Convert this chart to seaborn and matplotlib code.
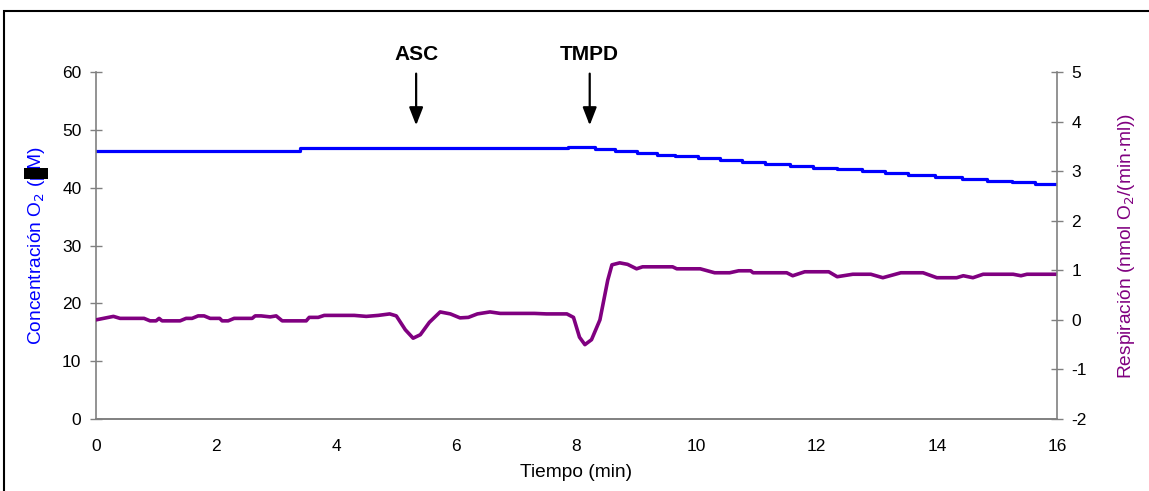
import numpy as np
import pandas as pd
import matplotlib
matplotlib.use("Agg")
import matplotlib.pyplot as plt
from matplotlib.patches import Rectangle
import seaborn as sns

# ---------------- data ----------------
o2_time = [0, 3.4, 7.86, 8.31, 8.64, 9.01, 9.34, 9.64, 10.02, 10.39, 10.76, 11.14,
           11.56, 11.94, 12.34, 12.75, 13.14, 13.52, 13.97, 14.42, 14.84, 15.25, 15.63, 16]
o2_conc = [46.4, 46.8, 47.1, 46.69, 46.40, 46.06, 45.71, 45.42, 45.07, 44.78, 44.44, 44.09,
           43.74, 43.46, 43.17, 42.82, 42.53, 42.19, 41.84, 41.55, 41.20, 40.91, 40.63, 40.63]

resp_time = [0, 0.29, 0.4, 0.8, 0.9, 1.0, 1.05, 1.1, 1.4, 1.5, 1.6, 1.7, 1.8, 1.9, 2.06,
             2.1, 2.2, 2.3, 2.6, 2.65, 2.75, 2.9, 3.0, 3.1, 3.5, 3.55, 3.7, 3.8, 4.3, 4.5,
             4.7, 4.89, 5.0, 5.15, 5.28, 5.4, 5.55, 5.73, 5.9, 6.06, 6.2, 6.35, 6.56, 6.73,
             7.3, 7.5, 7.84, 7.95, 8.05, 8.14, 8.25, 8.39, 8.52, 8.59, 8.72, 8.85, 9.0,
             9.1, 9.6, 9.67, 10.06, 10.3, 10.55, 10.7, 10.9, 10.94, 11.5, 11.6, 11.8,
             12.2, 12.34, 12.6, 12.9, 13.1, 13.4, 13.77, 14.0, 14.33, 14.44, 14.6, 14.77,
             15.27, 15.4, 15.5, 16]
resp_value = [0.0, 0.07, 0.03, 0.03, -0.02, -0.02, 0.03, -0.02, -0.02, 0.03, 0.03, 0.08,
              0.08, 0.03, 0.03, -0.02, -0.02, 0.03, 0.03, 0.08, 0.08, 0.06, 0.08, -0.02,
              -0.02, 0.05, 0.05, 0.09, 0.09, 0.07, 0.09, 0.12, 0.08, -0.2, -0.37, -0.3,
              -0.05, 0.16, 0.12, 0.04, 0.05, 0.12, 0.16, 0.13, 0.13, 0.12, 0.12, 0.05,
              -0.35, -0.5, -0.4, 0.0, 0.8, 1.11, 1.15, 1.12, 1.03, 1.07, 1.07, 1.03, 1.03,
              0.95, 0.95, 0.99, 0.99, 0.95, 0.95, 0.89, 0.97, 0.97, 0.87, 0.92, 0.92, 0.85,
              0.95, 0.95, 0.85, 0.85, 0.89, 0.85, 0.92, 0.92, 0.89, 0.92, 0.92]

x_ticks = [0, 2, 4, 6, 8, 10, 12, 14, 16]
left_ticks = [0, 10, 20, 30, 40, 50, 60]
right_ticks = [-2, -1, 0, 1, 2, 3, 4, 5]
events = ["ASC", "TMPD"]
event_times = [5.33, 8.22]

# ---------------- style ----------------
sns.set_theme(style="white")
plt.rcParams['font.family'] = ['Liberation Sans', 'DejaVu Sans']
plt.rcParams['axes.unicode_minus'] = False
plt.rcParams['text.color'] = 'black'
plt.rcParams['axes.labelcolor'] = 'black'

fig = plt.figure(figsize=(11.49, 4.91), dpi=100)
ax = fig.add_axes([96/1149, 1 - 419/491, (1057-96)/1149, (419-72)/491])
ax2 = ax.twinx()

BLUE = "#0000FF"
PURPLE = "#800080"
GRAY = "#808080"

df_o2 = pd.DataFrame({"t": o2_time, "c": o2_conc})
df_r = pd.DataFrame({"t": resp_time, "r": resp_value})

sns.lineplot(data=df_o2, x="t", y="c", ax=ax, color=BLUE, lw=2.3,
             drawstyle="steps-post", estimator=None, sort=False)
sns.lineplot(data=df_r, x="t", y="r", ax=ax2, color=PURPLE, lw=2.6,
             estimator=None, sort=False)

ax.set_xlim(0, 16)
ax.set_ylim(0, 60)
ax2.set_ylim(-2, 5)
ax.set_xticks(x_ticks)
ax.set_yticks(left_ticks)
ax2.set_yticks(right_ticks)
ax.set_xticklabels([str(v) for v in x_ticks])
ax2.set_yticklabels([str(v) for v in right_ticks])

for a in (ax, ax2):
    for s in a.spines.values():
        s.set_color(GRAY)
        s.set_linewidth(1.2)
    a.spines['top'].set_visible(False)
    a.tick_params(axis='both', direction='inout', length=9, width=1, color=GRAY,
                  labelsize=12.5, labelcolor='black')
ax2.spines['left'].set_visible(False)
ax.spines['right'].set_visible(False)
ax2.spines['right'].set_visible(True)
ax.tick_params(axis='y', pad=6)
ax.tick_params(axis='x', pad=10)
ax2.tick_params(axis='y', pad=6)

ax.set_xlabel("Tiempo (min)", fontsize=13.8, labelpad=7, color='black')
ax.set_ylabel("Concentración O$_2$ (μM)", fontsize=13.8, color=BLUE, labelpad=11)
ax2.set_ylabel("Respiración (nmol O$_2$/(min·ml))", fontsize=13.8, color=PURPLE, labelpad=21)

# event arrows
for name, t in zip(events, event_times):
    ax.annotate("", xy=(t, 50.3), xytext=(t, 60.2), xycoords='data',
                arrowprops=dict(arrowstyle="-|>,head_width=0.35,head_length=0.9",
                                color='black', lw=1.6), annotation_clip=False)
    ax.text(t, 63.1, name, ha='center', va='center', fontsize=15,
            fontweight='bold', color='black', clip_on=False)

# outer frame and label artifact
fig.patches.append(Rectangle((4/1149, -0.05), 1.2, 1 - 11/491 + 0.05,
                             transform=fig.transFigure, fill=False,
                             edgecolor='black', lw=1.5))
fig.patches.append(Rectangle((24/1149, 1 - 179/491), 24/1149, 11/491,
                             transform=fig.transFigure, facecolor='black',
                             edgecolor='none', zorder=10))

fig.savefig("out.png", dpi=100)
